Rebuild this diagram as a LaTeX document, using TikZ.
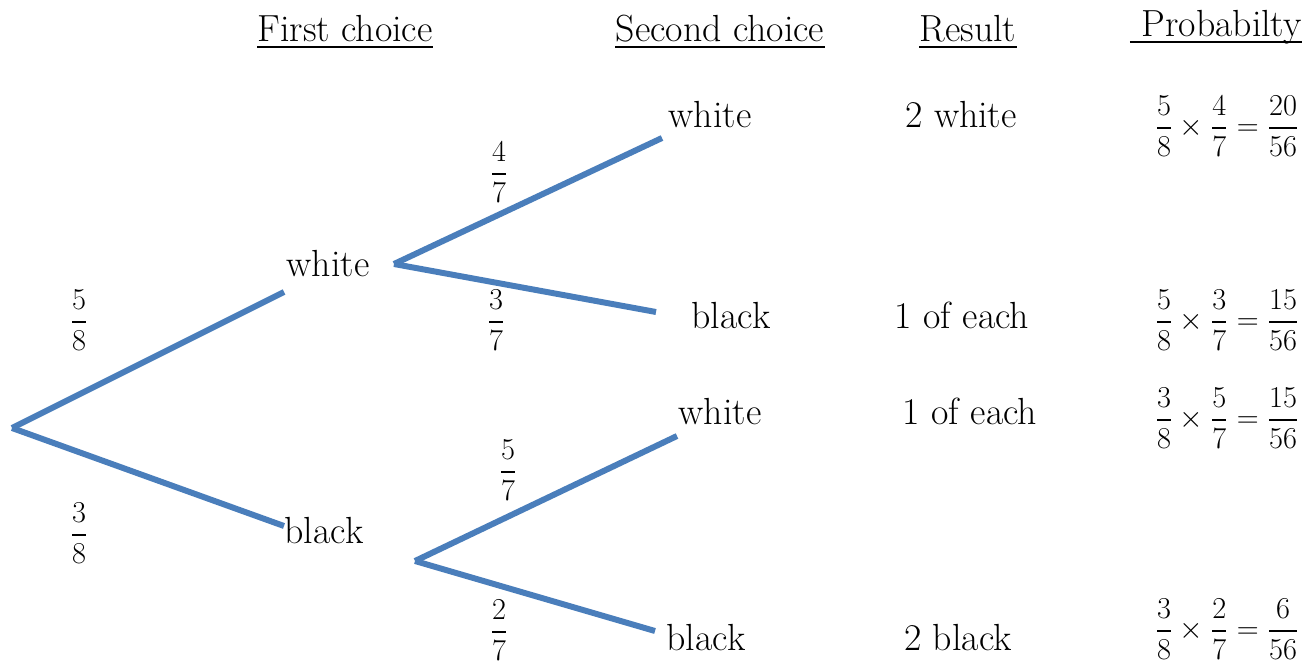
\documentclass[tikz,border=0pt]{standalone}
\usepackage{amsmath}
\definecolor{branchblue}{HTML}{4A7EBB}
\newcommand{\fr}[2]{$\dfrac{#1}{#2}$}
\newcommand{\calc}[6]{$\dfrac{#1}{#2}\times\dfrac{#3}{#4}=\dfrac{#5}{#6}$}

\begin{document}
\begin{tikzpicture}[x=0.02cm,y=-0.02cm,
  every node/.style={font=\fontsize{21.5}{25}\selectfont,inner sep=0pt},
  word/.style={anchor=base},
  head/.style={anchor=base},
  prob/.style={font=\fontsize{17}{20}\selectfont},
  total/.style={font=\fontsize{17}{20}\selectfont},
  branch/.style={line width=3.4pt,branchblue}]
  \useasboundingbox (0,0) rectangle (1311,668);
  \node[head] (H1) at (345,42) {First choice};
  \node[head] (H2) at (720,42) {Second choice};
  \node[head] (H3) at (968,42) {Result};
  \node[head] (H4) at (1216,37) {\ Probabilty};
  \draw[line width=1.4pt] ([yshift=-3pt]H1.base west) -- ([yshift=-3pt]H1.base east);
  \draw[line width=1.4pt] ([yshift=-3pt]H2.base west) -- ([yshift=-3pt]H2.base east);
  \draw[line width=1.4pt] ([yshift=-3pt]H3.base west) -- ([yshift=-3pt]H3.base east);
  \draw[line width=1.4pt] ([yshift=-3pt]H4.base west) -- ([yshift=-3pt]H4.base east);

  \coordinate (R) at (12,428);
  \coordinate (W) at (394,264);
  \coordinate (B) at (415,561);
  \draw[branch] (R) -- (284,292);
  \draw[branch] (R) -- (284,526);
  \draw[branch] (W) -- (662,138);
  \draw[branch] (W) -- (656,312);
  \draw[branch] (B) -- (677,436);
  \draw[branch] (B) -- (655,631);

  \node[word] (w) at (328,277) {white};
  \node[word] (b) at (324,543) {black};
  \node[word] (ww) at (710,128) {white};
  \node[word] (wb) at (731,329) {black};
  \node[word] (bw) at (720,425) {white};
  \node[word] (bb) at (706,650) {black};

  \node[prob] (pw) at (79,320) {\fr{5}{8}};
  \node[prob] (pb) at (79,533) {\fr{3}{8}};
  \node[prob] (pww) at (499,172) {\fr{4}{7}};
  \node[prob] (pwb) at (496,320) {\fr{3}{7}};
  \node[prob] (pbw) at (508,470) {\fr{5}{7}};
  \node[prob] (pbb) at (499,630) {\fr{2}{7}};

  \node[word] (rww) at (961,128) {2 white};
  \node[word] (rwb) at (962,329) {1 of each};
  \node[word] (rbw) at (970,425) {1 of each};
  \node[word] (rbb) at (958,650) {2 black};

  \node[total] (tww) at (1227,126) {\calc{5}{8}{4}{7}{20}{56}};
  \node[total] (twb) at (1227,320) {\calc{5}{8}{3}{7}{15}{56}};
  \node[total] (tbw) at (1227,418) {\calc{3}{8}{5}{7}{15}{56}};
  \node[total] (tbb) at (1227,629) {\calc{3}{8}{2}{7}{6}{56}};
\end{tikzpicture}
\end{document}
